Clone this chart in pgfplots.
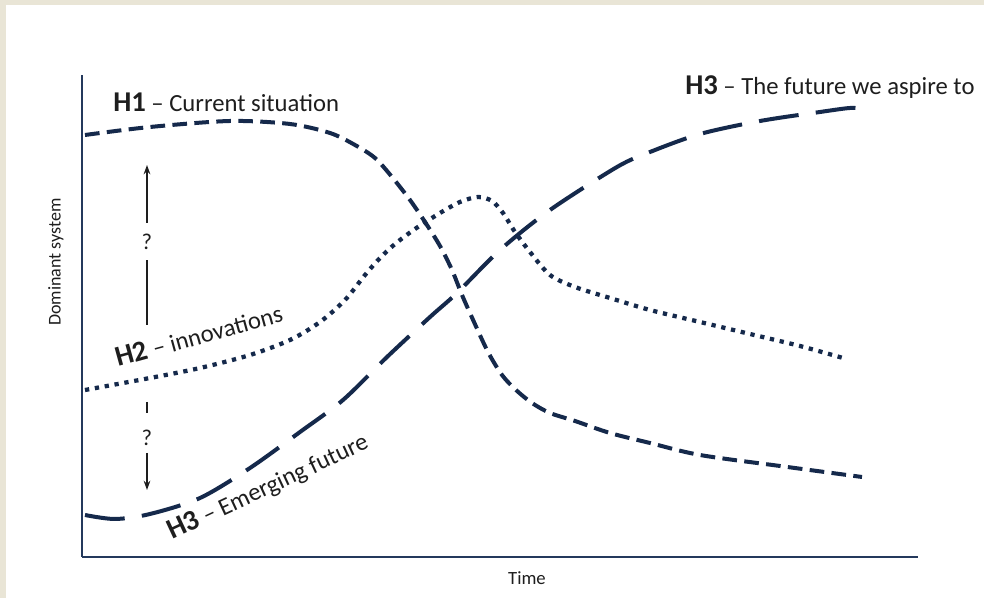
\documentclass[border=0pt]{standalone}
\usepackage{fontspec}
\setmainfont{Carlito}
\usepackage{pgfplots}
\pgfplotsset{compat=1.18}
\usetikzlibrary{arrows.meta,backgrounds}
\definecolor{navy}{HTML}{15294B}
\definecolor{axisnavy}{HTML}{24395C}
\definecolor{beige}{HTML}{E9E5D6}
\definecolor{txt}{HTML}{1E1E1E}
\newcommand{\lab}[2]{{\fontsize{21.5}{24}\selectfont\bfseries #1}{\fontsize{18.5}{22}\selectfont\ – #2}}
\begin{document}
\begin{tikzpicture}
\begin{axis}[
  scale only axis, width=627pt, height=361.5pt,
  xmin=82, xmax=918, ymin=41, ymax=523,
  axis lines=left,
  axis line style={-, axisnavy, line width=2.2pt},
  xtick=\empty, ytick=\empty,
  clip=false,
]
\coordinate (bgA) at (axis cs:0,0);
\coordinate (bgB) at (axis cs:984,598);
\coordinate (bgC) at (axis cs:6,0);
\coordinate (bgD) at (axis cs:984,593);

% H1 - current situation
\addplot[navy, line width=3pt, smooth, tension=0.5, dash pattern=on 11pt off 5.5pt] coordinates {
(85,463) (150,471) (230,477) (290,474) (330,465) (355,453) (375,440) (392,421)
(410,398) (425,376) (440,352) (452,328) (462,303) (474,276) (488,246) (502,223)
(516,208) (532,195) (550,185) (575,177) (610,165) (650,155) (700,143) (780,132) (862,121)
};
% H2 - innovations
\addplot[navy, line width=3.2pt, smooth, tension=0.5, dash pattern=on 3.2pt off 4.3pt] coordinates {
(85,208) (150,220) (200,230) (250,243) (290,258) (320,276) (345,298) (365,323)
(380,340) (395,354) (415,369) (440,385) (460,396) (478,401) (492,397) (503,385)
(515,366) (530,346) (550,323) (575,311) (610,300) (650,288) (700,276) (750,264)
(800,252) (843,240)
};
% H3 - emerging future
\addplot[navy, line width=3pt, smooth, tension=0.5, dash pattern=on 30pt off 13pt] coordinates {
(85,83) (115,79) (150,84) (200,100) (250,130) (300,166) (343,198) (387,241)
(430,281) (457,305) (500,348) (550,388) (617,431) (650,446) (700,464) (760,477)
(820,486) (850,490) (865,489)
};

\node[txt, anchor=base west, inner sep=0pt] at (axis cs:113,486) {\lab{H1}{Current situation}};
\node[txt, anchor=base west, inner sep=0pt] at (axis cs:685,503) {\lab{H3}{The future we aspire to}};
\node[txt, anchor=base west, inner sep=0pt, rotate=15.4] at (axis cs:118,231) {\lab{H2}{innovations}};
\node[txt, anchor=base west, inner sep=0pt, rotate=25] at (axis cs:172,58) {\lab{H3}{Emerging future}};

\node[txt, rotate=90, font=\fontsize{13.5}{16}\selectfont] at (axis cs:56,336) {Dominant system};
\node[txt, font=\fontsize{14}{16}\selectfont] at (axis cs:527,20) {Time};

\draw[txt, line width=1.1pt] (axis cs:147,273) -- (axis cs:147,338);
\draw[txt, line width=1.1pt, -{Stealth[length=7pt,width=5pt]}] (axis cs:147,375) -- (axis cs:147,433);
\node[txt, font=\fontsize{17}{19}\selectfont] at (axis cs:147,356) {?};
\draw[txt, line width=1.1pt] (axis cs:147,196) -- (axis cs:147,185);
\draw[txt, line width=1.1pt, -{Stealth[length=7pt,width=5pt]}] (axis cs:147,145) -- (axis cs:147,108);
\node[txt, font=\fontsize{17}{19}\selectfont] at (axis cs:147,160) {?};
\end{axis}
\begin{scope}[on background layer]
\fill[beige] (bgA) rectangle (bgB);
\fill[white] (bgC) rectangle (bgD);
\end{scope}
\end{tikzpicture}
\end{document}
